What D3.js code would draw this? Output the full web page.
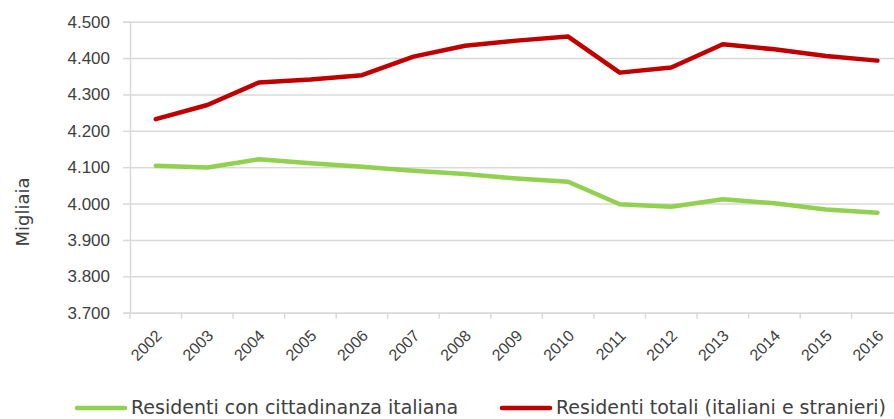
<!DOCTYPE html>
<html>
<head>
<meta charset="utf-8">
<script src="https://cdn.jsdelivr.net/npm/d3@7"></script>
<style>
  body { margin: 0; background: #fff; }
  svg { display: block; font-family: "DejaVu Sans", sans-serif; }
</style>
</head>
<body>
<script>
// data (migliaia)
var years = ["2002","2003","2004","2005","2006","2007","2008","2009","2010","2011","2012","2013","2014","2015","2016"];
var italiani = [4104, 4099, 4122, 4111, 4101, 4090, 4081, 4069, 4060, 3998, 3991, 4012, 4001, 3984, 3975];
var totali = [4232, 4271, 4333, 4341, 4353, 4404, 4434, 4448, 4459, 4360, 4374, 4438, 4424, 4406, 4393];
var yTicks = [3700, 3800, 3900, 4000, 4100, 4200, 4300, 4400, 4500];
var seriesNames = ["Residenti con cittadinanza italiana", "Residenti totali (italiani e stranieri)"];
var seriesColors = ["#92D050", "#C00000"];

var W = 894, H = 419;
var plotLeft = 130, plotTop = 21.7, plotBottom = 312.7, step = 51.55;

var svg = d3.select("body").append("svg")
  .attr("width", W)
  .attr("height", H);

var x = d3.scaleBand().domain(years).range([plotLeft, plotLeft + step * years.length]);
var y = d3.scaleLinear().domain([3700, 4500]).range([plotBottom, plotTop]);

// gridlines + y axis
var yAxis = svg.append("g")
  .attr("transform", "translate(" + plotLeft + ",0)")
  .call(d3.axisLeft(y).tickValues(yTicks).tickSize(7).tickPadding(13)
    .tickFormat(function(d){ return d3.format(",")(d).replace(",", "."); }));
yAxis.select(".domain").attr("stroke", "#D9D9D9").attr("stroke-width", 1.5);
yAxis.selectAll(".tick line").attr("stroke", "#D9D9D9").attr("stroke-width", 1.5);
yAxis.selectAll(".tick text").attr("fill", "#404040").style("font-size", "17px");
yAxis.selectAll(".tick").append("line")
  .attr("x1", 0).attr("x2", W)
  .attr("stroke", "#D9D9D9").attr("stroke-width", 1.5);

// x axis
var xAxis = svg.append("g")
  .attr("transform", "translate(0," + plotBottom + ")")
  .call(d3.axisBottom(x).tickSize(0).tickPadding(0));
xAxis.select(".domain").attr("stroke", "#D9D9D9").attr("stroke-width", 1.5);
xAxis.selectAll(".tick text")
  .attr("fill", "#404040")
  .style("font-size", "16px")
  .attr("text-anchor", "end")
  .attr("dy", 0)
  .attr("transform", "translate(7,24) rotate(-45)");
xAxis.selectAll(".bound")
  .data(years)
  .enter().append("line")
  .attr("class", "bound")
  .attr("x1", function(d){ return x(d); })
  .attr("x2", function(d){ return x(d); })
  .attr("y1", 0).attr("y2", 6)
  .attr("stroke", "#D9D9D9").attr("stroke-width", 1.5);

// lines
var line = d3.line()
  .x(function(d, i){ return x(years[i]) + x.bandwidth() / 2; })
  .y(function(d){ return y(d); });

[italiani, totali].forEach(function(s, i){
  svg.append("path")
    .datum(s)
    .attr("fill", "none")
    .attr("stroke", seriesColors[i])
    .attr("stroke-width", 4.5)
    .attr("stroke-linejoin", "round")
    .attr("stroke-linecap", "round")
    .attr("d", line);
});

// y title
svg.append("text")
  .attr("transform", "translate(29,212) rotate(-90)")
  .attr("text-anchor", "middle")
  .attr("fill", "#404040")
  .style("font-size", "18px")
  .text("Migliaia");

// legend
var legendX = [75, 500];
var lg = svg.selectAll(".legend")
  .data(seriesNames)
  .enter().append("g")
  .attr("class", "legend")
  .attr("transform", function(d, i){ return "translate(" + legendX[i] + ",408)"; });
lg.append("line")
  .attr("x1", 2).attr("x2", 50)
  .attr("stroke", function(d, i){ return seriesColors[i]; })
  .attr("stroke-width", 4.5)
  .attr("stroke-linecap", "round");
lg.append("text")
  .attr("x", 56)
  .attr("y", 6)
  .attr("fill", "#404040")
  .style("font-size", "19px")
  .text(function(d){ return d; });
</script>
</body>
</html>
